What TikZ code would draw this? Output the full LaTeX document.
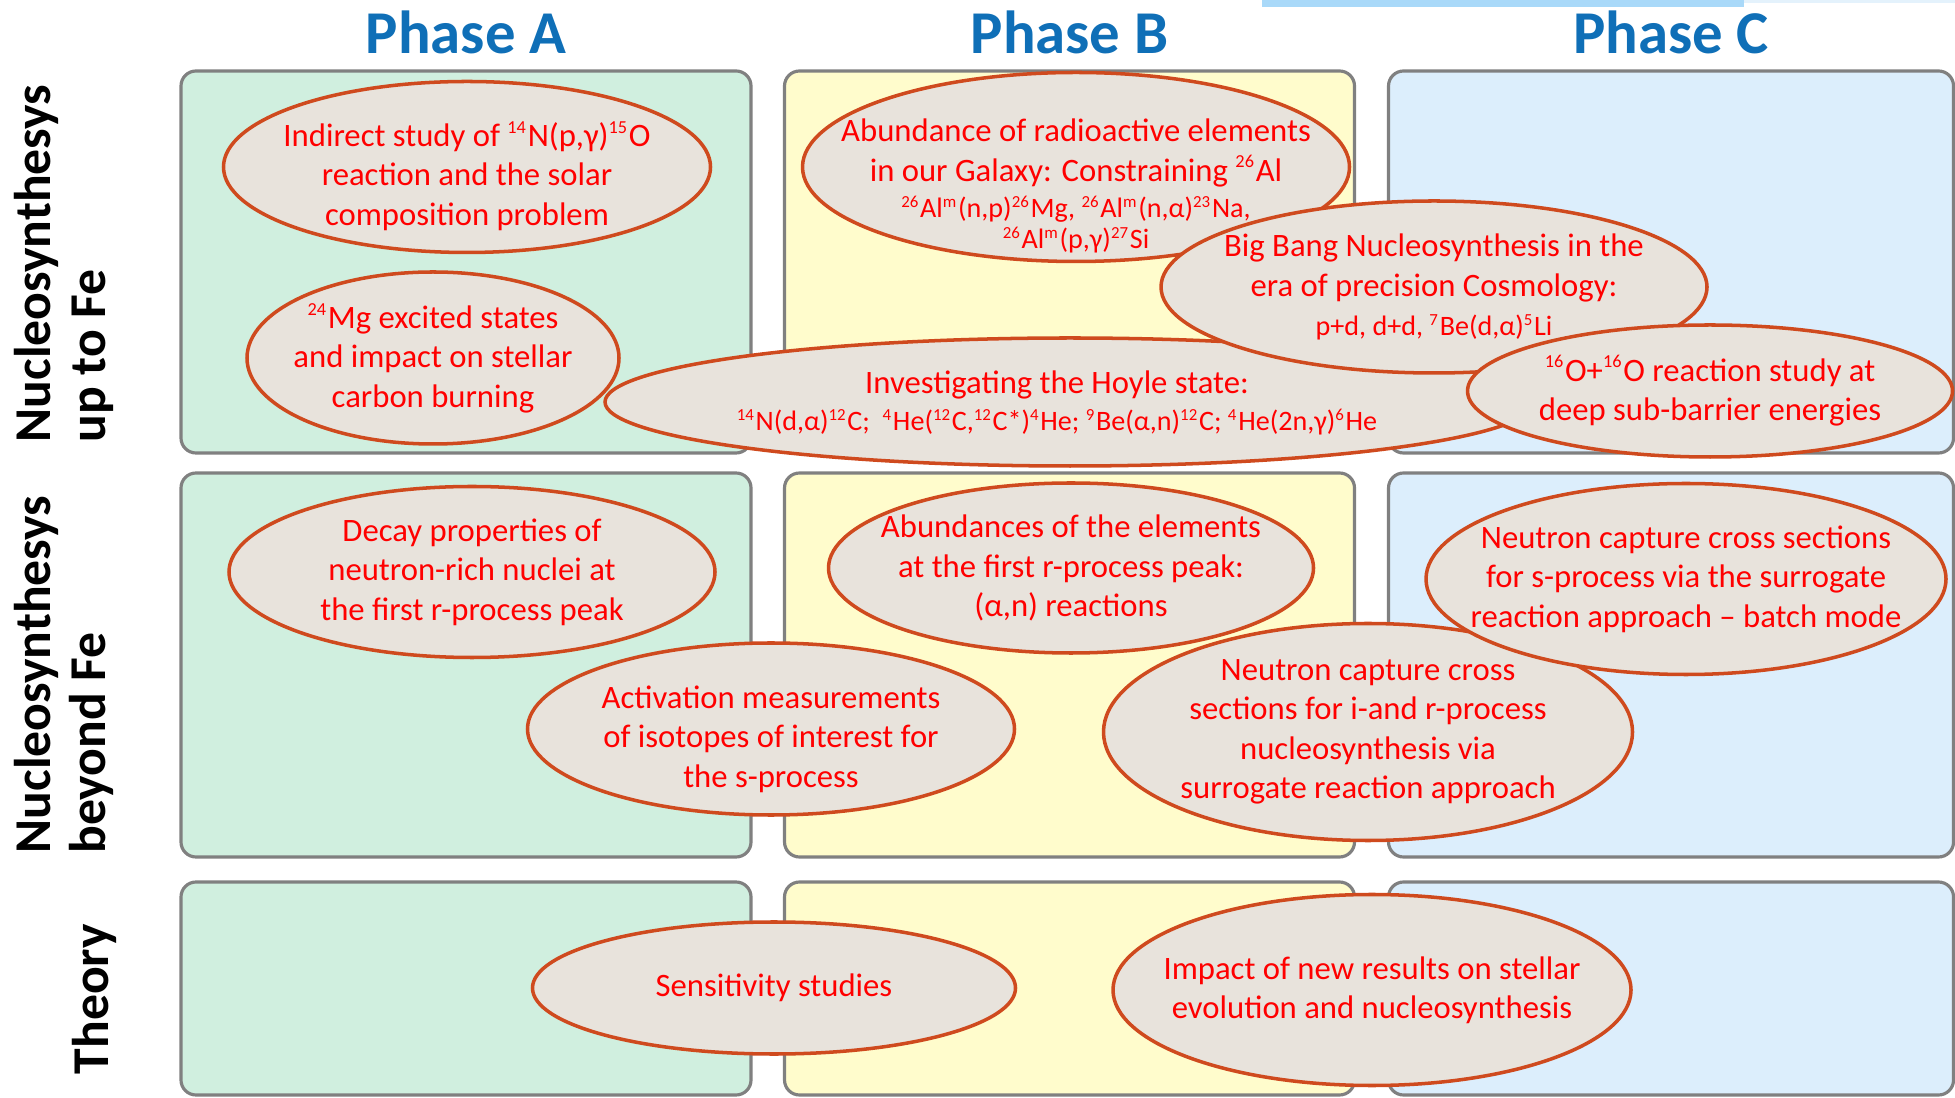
\documentclass[tikz,border=0pt]{standalone}
\usepackage{fontspec}
\setmainfont{Carlito}
\usepackage{tikz}
\usetikzlibrary{positioning,shapes.geometric}

\definecolor{mintfill}{HTML}{D0EFDF}
\definecolor{lemonfill}{HTML}{FFFCCC}
\definecolor{skyfill}{HTML}{DCEEFC}
\definecolor{panelgray}{HTML}{808080}
\definecolor{bubblefill}{HTML}{E8E3DC}
\definecolor{bubbleline}{HTML}{CF4A1E}
\definecolor{bubbletext}{HTML}{FF0000}
\definecolor{phaseblue}{HTML}{0F6FB7}
\definecolor{barblue}{HTML}{A9D9F9}
\definecolor{barlight}{HTML}{E4F2FC}

\newcommand{\iso}[1]{\textsuperscript{\scalebox{0.8}{#1}}}
\newcommand{\smalltxt}{\fontsize{8}{9.6}\selectfont}

\begin{document}
\begin{tikzpicture}[
    node distance=0.2cm and 0.335cm,
    panel/.style={draw=panelgray, line width=0.9pt, rounded corners=0.15cm, inner sep=0pt, outer sep=0pt, minimum width=5.70cm},
    colA/.style={panel, fill=mintfill},
    colB/.style={panel, fill=lemonfill},
    colC/.style={panel, fill=skyfill, minimum width=5.65cm},
    phase/.style={font=\bfseries\fontsize{17.3}{20}\selectfont, text=phaseblue, anchor=base, inner sep=0pt},
    rowlabel/.style={font=\bfseries\fontsize{14.7}{15.8}\selectfont, rotate=90, align=left, anchor=west, inner sep=0pt},
    topic/.style={text=bubbletext, align=center, inner sep=0pt, font=\fontsize{9.3}{11.2}\selectfont},
    bubble/.style={topic, ellipse, draw=bubbleline, fill=bubblefill, line width=1pt, inner sep=-1cm}
]
  \useasboundingbox (0,0) rectangle (19.55,10.97);

  % Panels
  \node (a1) [colA, minimum height=3.82cm] at (4.66,8.35) {};
  \node (b1) [colB, minimum height=3.82cm, right=of a1] {};
  \node (c1) [colC, minimum height=3.82cm, right=0.34cm of b1] {};
  \node (a2) [colA, minimum height=3.84cm, below=of a1] {};
  \node (b2) [colB, minimum height=3.84cm, below=of b1] {};
  \node (c2) [colC, minimum height=3.84cm, below=of c1] {};
  \node (a3) [colA, minimum height=2.13cm, below=0.25cm of a2] {};
  \node (b3) [colB, minimum height=2.13cm, below=0.25cm of b2] {};
  \node (c3) [colC, minimum height=2.13cm, below=0.25cm of c2] {};

  \fill[barblue] (12.62,10.97) rectangle (17.44,10.90);
  \fill[barlight] (17.44,10.97) rectangle (19.55,10.94);

  % Headings
  \node (phA) [phase] at ([yshift=0.17cm]a1.north) {Phase A};
  \node (phB) [phase] at ([yshift=0.17cm]b1.north) {Phase B};
  \node (phC) [phase] at ([yshift=0.17cm]c1.north) {Phase C};

  \node (lab1) [rowlabel] at (0.64,6.54) {Nucleosynthesys\\up to Fe};
  \node (lab2) [rowlabel] at (0.64,2.43) {Nucleosynthesys\\beyond Fe};
  \node (lab3) [rowlabel] at (0.94,0.22) {Theory};

  % Topics
  \node (solar) [bubble, minimum width=4.87cm, minimum height=1.71cm] at (4.67,9.30) {};
  \node (solartxt) [topic] at (4.67,9.21) {Indirect study of \iso{14}N(p,γ)\iso{15}O\\reaction and the solar\\composition problem};
  \node (mg) [bubble, minimum width=3.72cm, minimum height=1.72cm] at (4.33,7.39) {\iso{24}Mg excited states\\and impact on stellar\\carbon burning};
  \node (galaxy) [bubble, minimum width=5.47cm, minimum height=1.89cm] at (10.76,9.30) {};
  \node (galaxytxt) [topic] at (10.76,9.11) {Abundance of radioactive elements\\in our Galaxy: Constraining \iso{26}Al\\[-1pt] \smalltxt \iso{26}Al\iso{m}(n,p)\iso{26}Mg, \iso{26}Al\iso{m}(n,α)\iso{23}Na,\\[-2.4pt] \smalltxt \iso{26}Al\iso{m}(p,γ)\iso{27}Si};
  \node (hoyle) [bubble, minimum width=9.30cm, minimum height=1.28cm] at (10.70,6.95) {};
  \node (hoyletxt) [topic] at (10.57,6.94) {Investigating the Hoyle state:\\[-0.7pt] \smalltxt \iso{14}N(d,α)\iso{12}C;\ \ \iso{4}He(\iso{12}C,\iso{12}C*)\iso{4}He; \iso{9}Be(α,n)\iso{12}C; \iso{4}He(2n,γ)\iso{6}He};
  \node (bigbang) [bubble, minimum width=5.46cm, minimum height=1.72cm] at (14.34,8.10) {Big Bang Nucleosynthesis in the\\era of precision Cosmology:\\ \smalltxt p+d, d+d, \iso{7}Be(d,α)\iso{5}Li};
  \node (oxygen) [bubble, minimum width=4.85cm, minimum height=1.32cm] at (17.10,7.06) {\iso{16}O+\iso{16}O reaction study at\\deep sub-barrier energies};

  \node (decay) [bubble, minimum width=4.86cm, minimum height=1.71cm] at (4.72,5.25) {Decay properties of\\neutron-rich nuclei at\\the first r-process peak};
  \node (activ) [bubble, minimum width=4.87cm, minimum height=1.72cm] at (7.71,3.68) {};
  \node (activtxt) [topic] at (7.71,3.58) {Activation measurements\\of isotopes of interest for\\the s-process};
  \node (abund) [bubble, minimum width=4.85cm, minimum height=1.70cm] at (10.71,5.29) {Abundances of the elements\\at the first r-process peak:\\(α,n) reactions};
  \node (irproc) [bubble, minimum width=5.29cm, minimum height=2.17cm] at (13.68,3.65) {Neutron capture cross\\sections for i-and r-process\\nucleosynthesis via\\surrogate reaction approach};
  \node (sproc) [bubble, minimum width=5.20cm, minimum height=1.91cm] at (16.86,5.18) {Neutron capture cross sections\\for s-process via the surrogate\\reaction approach -- batch mode};

  \node (sens) [bubble, minimum width=4.83cm, minimum height=1.32cm] at (7.74,1.09) {Sensitivity studies};
  \node (impact) [bubble, minimum width=5.18cm, minimum height=1.91cm] at (13.72,1.07) {Impact of new results on stellar\\evolution and nucleosynthesis};

\end{tikzpicture}
\end{document}
